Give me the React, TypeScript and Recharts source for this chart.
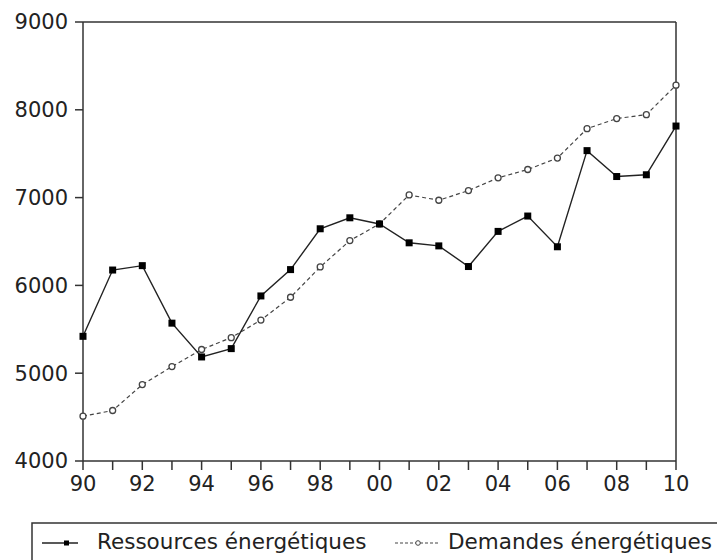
import { LineChart, Line, XAxis, YAxis, ReferenceLine } from 'recharts'

const years = ['90', '91', '92', '93', '94', '95', '96', '97', '98', '99', '00', '01', '02', '03', '04', '05', '06', '07', '08', '09', '10']
const ressources = [5420, 6175, 6225, 5570, 5185, 5280, 5880, 6180, 6645, 6770, 6700, 6485, 6450, 6215, 6615, 6790, 6440, 7535, 7240, 7260, 7815]
const demandes = [4510, 4575, 4870, 5075, 5270, 5405, 5605, 5865, 6210, 6510, 6700, 7030, 6970, 7080, 7225, 7320, 7450, 7785, 7900, 7945, 8280]
const yTicks = [4000, 5000, 6000, 7000, 8000, 9000]

const FONT = '"DejaVu Sans", sans-serif'
const AXIS = '#333'

const data = years.map((y, i) => ({ year: y, Ressources: ressources[i], Demandes: demandes[i] }))

const SquareDot = (props: any) => {
  const { cx, cy, index } = props
  if (cx == null || cy == null) return null
  return <rect key={`sq-${index}`} x={cx - 3.5} y={cy - 3.5} width={7} height={7} fill="#000" />
}

const CircleDot = (props: any) => {
  const { cx, cy, index } = props
  if (cx == null || cy == null) return null
  return <circle key={`ci-${index}`} cx={cx} cy={cy} r={3} fill="#fff" stroke="#444" strokeWidth={1.3} />
}

export default function App() {
  return (
    <div style={{ position: 'fixed', left: 0, top: 0, width: 717, height: 560, overflow: 'hidden', background: '#fff', fontFamily: FONT }}>
      <div style={{ position: 'absolute', left: 0, top: 0 }}>
        <LineChart width={717} height={500} data={data} margin={{ top: 22, right: 41, bottom: 9, left: 0 }}>
          <XAxis
            dataKey="year"
            interval={0}
            height={30}
            stroke={AXIS}
            strokeWidth={1.5}
            tickSize={9}
            tickMargin={6}
            tick={{ fill: '#222', fontSize: 21, fontFamily: FONT }}
            tickFormatter={(v: string, i: number) => (i % 2 === 0 ? v : '')}
          />
          <YAxis
            domain={[4000, 9000]}
            ticks={yTicks}
            width={83}
            stroke={AXIS}
            strokeWidth={1.5}
            tickSize={8}
            tickMargin={7}
            tick={{ fill: '#222', fontSize: 21, fontFamily: FONT }}
          />
          <ReferenceLine y={9000} stroke={AXIS} strokeWidth={1.5} />
          <ReferenceLine x="10" stroke={AXIS} strokeWidth={1.5} />
          <Line
            dataKey="Demandes"
            stroke="#444"
            strokeWidth={1.2}
            strokeDasharray="4 3"
            dot={CircleDot}
            isAnimationActive={false}
          />
          <Line
            dataKey="Ressources"
            stroke="#222"
            strokeWidth={1.4}
            dot={SquareDot}
            isAnimationActive={false}
          />
        </LineChart>
      </div>

      {/* legend box, cut by the picture's bottom and right edges */}
      <svg style={{ position: 'absolute', left: 0, top: 0 }} width={717} height={560}>
        <rect x={32} y={523} width={720} height={80} fill="none" stroke={AXIS} strokeWidth={1.5} />
        <line x1={42} y1={543} x2={78} y2={543} stroke="#222" strokeWidth={1.4} />
        <rect x={64} y={540.5} width={5} height={5} fill="#000" />
        <text x={97} y={549} fontSize={21.5} fontFamily={FONT} fill="#222">Ressources énergétiques</text>
        <line x1={395} y1={543} x2={438} y2={543} stroke="#444" strokeWidth={1.2} strokeDasharray="3 2" />
        <circle cx={418} cy={543} r={2.3} fill="#fff" stroke="#444" strokeWidth={1} />
        <text x={448} y={549} fontSize={21.5} fontFamily={FONT} fill="#222">Demandes énergétiques</text>
      </svg>
    </div>
  )
}
